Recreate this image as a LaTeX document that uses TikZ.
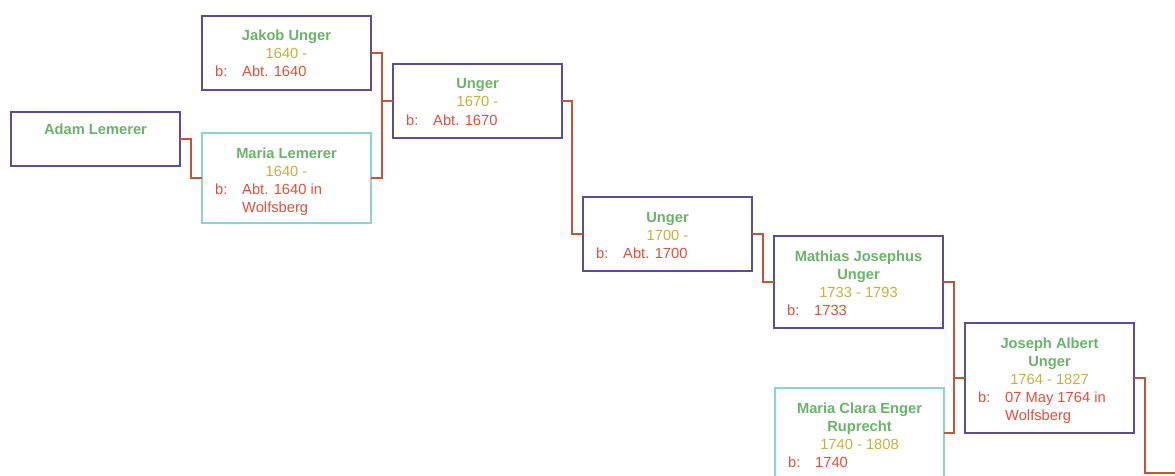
\documentclass[tikz,border=0pt]{standalone}
\usepackage{fontspec}
\setmainfont{Liberation Sans}
\usetikzlibrary{calc}
\definecolor{purpleC}{HTML}{5E4C96}
\definecolor{cyanC}{HTML}{8CD3D3}
\definecolor{greenC}{HTML}{6AB46A}
\definecolor{yearC}{HTML}{C8B040}
\definecolor{redC}{HTML}{E0503A}
\definecolor{lineC}{HTML}{C4553A}
\tikzset{
  pbox/.style={draw=purpleC, line width=1.6pt, minimum width=169pt, inner sep=0pt, outer sep=0pt, anchor=north west, fill=white},
  cbox/.style={draw=cyanC, line width=1.4pt, minimum width=169pt, inner sep=0pt, outer sep=0pt, anchor=north west, fill=white},
  txt/.style={inner sep=0pt, font=\fontsize{14.7}{18}\selectfont},
  nm/.style={txt, text=greenC, font=\fontsize{14.7}{18}\selectfont\bfseries, anchor=base},
  yr/.style={txt, text=yearC, anchor=base},
  bl/.style={txt, text=redC, anchor=base west},
  conn/.style={draw=lineC, line width=1.6pt},
}
\begin{document}
\begin{tikzpicture}[x=1pt,y=-1pt]
\useasboundingbox (0,0) rectangle (1175,476);
\clip (0,0) rectangle (1175,476);
\fill[white] (0,0) rectangle (1175,476);
% boxes
\node[pbox, minimum height=54pt] (adam) at (11,112) {};
\node[pbox, minimum height=74pt] (jakob) at (202,16) {};
\node[cbox, minimum height=90pt] (marial) at (202,133) {};
\node[pbox, minimum height=74pt] (u1670) at (393,64) {};
\node[pbox, minimum height=74pt] (u1700) at (583,197) {};
\node[pbox, minimum height=92pt] (mathias) at (774,236) {};
\node[pbox, minimum height=110pt] (joseph) at (965,323) {};
\node[cbox, minimum height=90pt] (mariac) at (775,388) {};
\coordinate (endpt) at (1180,473);
% connectors
\draw[conn] (adam.east) -- ++(11,0) |- (marial.west);
\draw[conn] (jakob.east) -- ++(11,0) |- (marial.east);
\draw[conn] (u1670.west) -- ++(-11,0);
\draw[conn] (u1670.east) -- ++(10,0) |- (u1700.west);
\draw[conn] (u1700.east) -- ++(11,0) |- (mathias.west);
\draw[conn] (mathias.east) -- ++(11,0) |- (mariac.east);
\draw[conn] (joseph.west) -- ++(-11,0);
\draw[conn] (joseph.east) -- ++(11,0) |- (endpt);
% Adam
\node[nm] at ($(adam.north)+(0,23)$) {Adam Lemerer};
% Jakob
\node[nm] at ($(jakob.north)+(0,25)$) {Jakob Unger};
\node[yr] at ($(jakob.north)+(0,43)$) {1640 -};
\node[bl] at ($(jakob.north west)+(13,61)$) {b:};
\node[bl] at ($(jakob.north west)+(40,61)$) {Abt. 1640};
% Maria Lemerer
\node[nm] at ($(marial.north)+(0,25)$) {Maria Lemerer};
\node[yr] at ($(marial.north)+(0,43)$) {1640 -};
\node[bl] at ($(marial.north west)+(13,61)$) {b:};
\node[bl] at ($(marial.north west)+(40,61)$) {Abt. 1640 in};
\node[bl] at ($(marial.north west)+(40,79)$) {Wolfsberg};
% Unger 1670
\node[nm] at ($(u1670.north)+(0,25)$) {Unger};
\node[yr] at ($(u1670.north)+(0,43)$) {1670 -};
\node[bl] at ($(u1670.north west)+(13,61)$) {b:};
\node[bl] at ($(u1670.north west)+(40,61)$) {Abt. 1670};
% Unger 1700
\node[nm] at ($(u1700.north)+(0,25)$) {Unger};
\node[yr] at ($(u1700.north)+(0,43)$) {1700 -};
\node[bl] at ($(u1700.north west)+(13,61)$) {b:};
\node[bl] at ($(u1700.north west)+(40,61)$) {Abt. 1700};
% Mathias
\node[nm] at ($(mathias.north)+(0,25)$) {Mathias Josephus};
\node[nm] at ($(mathias.north)+(0,43)$) {Unger};
\node[yr] at ($(mathias.north)+(0,61)$) {1733 - 1793};
\node[bl] at ($(mathias.north west)+(13,79)$) {b:};
\node[bl] at ($(mathias.north west)+(40,79)$) {1733};
% Joseph
\node[nm] at ($(joseph.north)+(0,25)$) {Joseph Albert};
\node[nm] at ($(joseph.north)+(0,43)$) {Unger};
\node[yr] at ($(joseph.north)+(0,61)$) {1764 - 1827};
\node[bl] at ($(joseph.north west)+(13,79)$) {b:};
\node[bl] at ($(joseph.north west)+(40,79)$) {07 May 1764 in};
\node[bl] at ($(joseph.north west)+(40,97)$) {Wolfsberg};
% Maria Clara
\node[nm] at ($(mariac.north)+(0,25)$) {Maria Clara Enger};
\node[nm] at ($(mariac.north)+(0,43)$) {Ruprecht};
\node[yr] at ($(mariac.north)+(0,61)$) {1740 - 1808};
\node[bl] at ($(mariac.north west)+(13,79)$) {b:};
\node[bl] at ($(mariac.north west)+(40,79)$) {1740};
\end{tikzpicture}
\end{document}
